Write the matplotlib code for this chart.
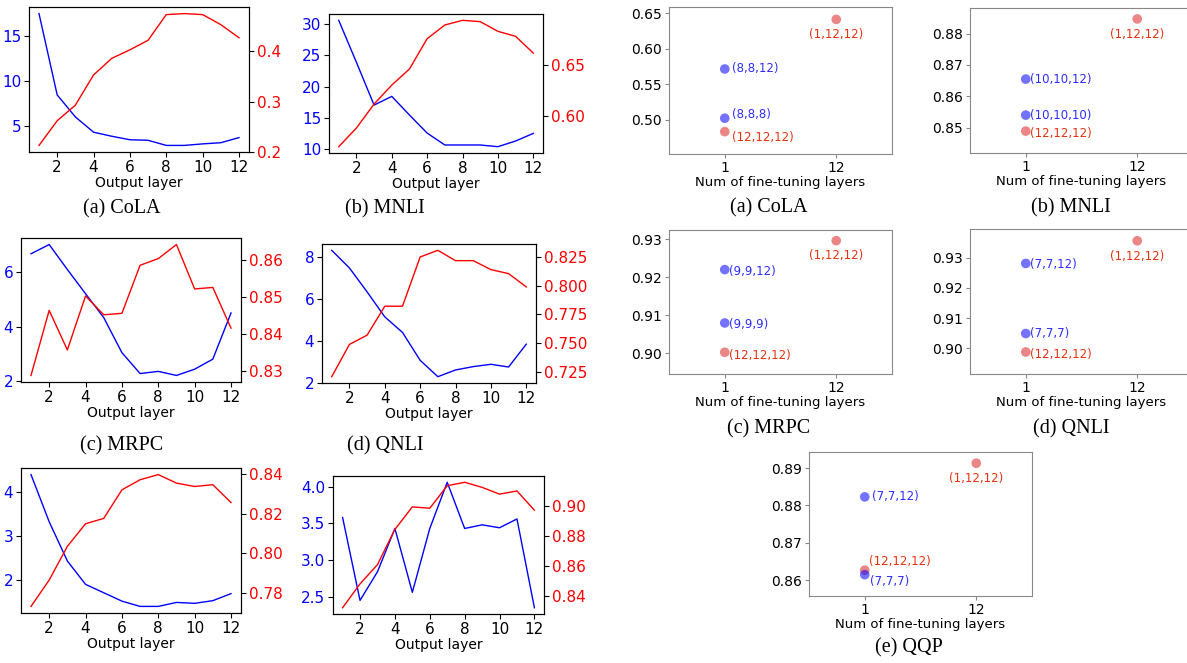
import matplotlib
matplotlib.use("Agg")
import matplotlib.pyplot as plt

W, H = 1187, 663
layers = list(range(1, 13))

# ---- line chart data (blue = left axis, red = right axis) ----
cola_blue = [17.5, 8.45, 6.0, 4.3, 3.85, 3.46, 3.4, 2.83, 2.83, 3.0, 3.13, 3.7]
cola_red = [0.213, 0.262, 0.293, 0.353, 0.386, 0.403, 0.422, 0.473, 0.475, 0.473, 0.453, 0.427]
mnli_blue = [30.6, 23.9, 17.07, 18.46, 15.48, 12.6, 10.7, 10.7, 10.7, 10.43, 11.33, 12.55]
mnli_red = [0.5696, 0.5879, 0.6114, 0.630, 0.6458, 0.6755, 0.6889, 0.6935, 0.6922, 0.6827, 0.6778, 0.6614]
mrpc_blue = [6.68, 7.02, 6.1, 5.21, 4.33, 3.04, 2.27, 2.35, 2.2, 2.43, 2.8, 4.5]
mrpc_red = [0.8287, 0.8463, 0.8356, 0.8502, 0.8451, 0.8455, 0.8585, 0.8603, 0.8641, 0.8521, 0.8525, 0.8415]
qnli_blue = [8.32, 7.48, 6.34, 5.15, 4.41, 3.08, 2.30, 2.62, 2.78, 2.89, 2.76, 3.85]
qnli_red = [0.7207, 0.7488, 0.7569, 0.7821, 0.7821, 0.825, 0.8308, 0.8218, 0.8218, 0.814, 0.8105, 0.7989]
e_blue = [4.40, 3.33, 2.44, 1.91, 1.72, 1.53, 1.41, 1.41, 1.50, 1.48, 1.54, 1.70]
e_red = [0.7732, 0.7865, 0.8035, 0.8149, 0.8176, 0.832, 0.8371, 0.8397, 0.8354, 0.8337, 0.8346, 0.8256]
f_blue = [3.58, 2.45, 2.84, 3.43, 2.56, 3.43, 4.06, 3.43, 3.48, 3.44, 3.56, 2.35]
f_red = [0.8321, 0.848, 0.8608, 0.8843, 0.8993, 0.8984, 0.9134, 0.9157, 0.9123, 0.9078, 0.9099, 0.8971]

# ---- scatter data ----
ft_ticks = [1, 12]
cola_pts = [(12, 0.6415, "(1,12,12)", "r"), (1, 0.5717, "(8,8,12)", "b"),
            (1, 0.5024, "(8,8,8)", "b"), (1, 0.4835, "(12,12,12)", "r")]
mnli_pts = [(12, 0.8847, "(1,12,12)", "r"), (1, 0.8655, "(10,10,12)", "b"),
            (1, 0.854, "(10,10,10)", "b"), (1, 0.8489, "(12,12,12)", "r")]
mrpc_pts = [(12, 0.9296, "(1,12,12)", "r"), (1, 0.922, "(9,9,12)", "b"),
            (1, 0.908, "(9,9,9)", "b"), (1, 0.9003, "(12,12,12)", "r")]
qnli_pts = [(12, 0.9356, "(1,12,12)", "r"), (1, 0.9281, "(7,7,12)", "b"),
            (1, 0.9049, "(7,7,7)", "b"), (1, 0.8988, "(12,12,12)", "r")]
qqp_pts = [(12, 0.8913, "(1,12,12)", "r"), (1, 0.8823, "(7,7,12)", "b"),
           (1, 0.8627, "(12,12,12)", "r"), (1, 0.8615, "(7,7,7)", "b")]

fig = plt.figure(figsize=(W / 100, H / 100), dpi=100)


def ax_at(l, t, r, b):
    return fig.add_axes([l / W, 1 - b / H, (r - l) / W, (b - t) / H])


def line_panel(box, blue, red, yticks_l=None, yticks_r=None):
    ax = ax_at(*box)
    ax.plot(layers, blue, color="blue", lw=1)
    ax2 = ax.twinx()
    ax2.plot(layers, red, color="red", lw=1)
    ax.set_xticks([2, 4, 6, 8, 10, 12])
    ax.set_xlabel("Output layer", fontsize=10, labelpad=1)
    ax.tick_params(axis="x", labelsize=11, pad=2)
    ax.tick_params(axis="y", labelsize=11, labelcolor="blue", pad=2)
    ax2.tick_params(axis="y", labelsize=11, labelcolor="red", pad=2)
    if yticks_l is not None:
        ax.set_yticks(yticks_l)
    if yticks_r is not None:
        ax2.set_yticks(yticks_r)
    return ax, ax2


line_panel((29, 7, 249, 152), cola_blue, cola_red, [5, 10, 15], [0.2, 0.3, 0.4])
line_panel((329, 14, 543, 153), mnli_blue, mnli_red, [10, 15, 20, 25, 30], [0.60, 0.65])
a3, b3 = line_panel((21, 238, 241, 382), mrpc_blue, mrpc_red, [2, 4, 6], [0.83, 0.84, 0.85, 0.86])
a4, b4 = line_panel((322, 244, 536, 383), qnli_blue, qnli_red, [2, 4, 6, 8],
                    [0.725, 0.750, 0.775, 0.800, 0.825])
b4.set_yticklabels(["0.725", "0.750", "0.775", "0.800", "0.825"])
a5, b5 = line_panel((21, 468, 241, 613), e_blue, e_red, [2, 3, 4], [0.78, 0.80, 0.82, 0.84])
b5.set_yticklabels(["0.78", "0.80", "0.82", "0.84"])
a6, b6 = line_panel((333, 476, 544, 614), f_blue, f_red, [2.5, 3.0, 3.5, 4.0],
                    [0.84, 0.86, 0.88, 0.90])
a6.set_yticklabels(["2.5", "3.0", "3.5", "4.0"])
b6.set_yticklabels(["0.84", "0.86", "0.88", "0.90"])
b3.set_yticklabels(["0.83", "0.84", "0.85", "0.86"])

BLUE_PT, RED_PT = "blue", "#dd2222"
BLUE_TX, RED_TX = "#2d2dff", "#e8300f"


def scatter_panel(box, pts, ylim, yticks, fmt, offsets):
    ax = ax_at(*box)
    for (x, y, lab, c), off in zip(pts, offsets):
        pc = BLUE_PT if c == "b" else RED_PT
        tc = BLUE_TX if c == "b" else RED_TX
        ax.scatter([x], [y], s=48, color=pc, alpha=0.55, edgecolors="none", zorder=3)
        ha = "center" if off[0] == 0 else "left"
        ax.annotate(lab, (x, y), xytext=off, textcoords="offset points",
                    ha=ha, va="center", fontsize=8.5, color=tc)
    ax.set_xlim(-4.5, 17.5)
    ax.set_ylim(*ylim)
    ax.set_xticks(ft_ticks)
    ax.set_yticks(yticks)
    ax.set_yticklabels([fmt.format(v) for v in yticks])
    ax.set_xlabel("Num of fine-tuning layers", fontsize=9.5, labelpad=1)
    ax.tick_params(labelsize=10, length=3, color="#888888", pad=2)
    for sp in ax.spines.values():
        sp.set_color("#888888")
    return ax


scatter_panel((669, 7, 892, 154), cola_pts, (0.452, 0.659), [0.50, 0.55, 0.60, 0.65], "{:.2f}",
              [(0, -11), (5, 0), (5, 3), (5, -4)])
scatter_panel((970, 8, 1193, 153), mnli_pts, (0.8419, 0.8882), [0.85, 0.86, 0.87, 0.88], "{:.2f}",
              [(0, -11), (3, 0), (3, 0), (3, -2)])
scatter_panel((669, 230, 892, 374), mrpc_pts, (0.8946, 0.9324), [0.90, 0.91, 0.92, 0.93], "{:.2f}",
              [(0, -11), (3, -1), (3, -1), (3, -2)])
scatter_panel((970, 229, 1193, 374), qnli_pts, (0.8915, 0.9395), [0.90, 0.91, 0.92, 0.93], "{:.2f}",
              [(0, -11), (3, -1), (3, 0), (3, -2)])
scatter_panel((809, 452, 1032, 596), qqp_pts, (0.8558, 0.8943), [0.86, 0.87, 0.88, 0.89], "{:.2f}",
              [(0, -11), (5, 0), (3, 6), (4, -5)])

# ---- captions ----
captions = [(122, 209, "(a) CoLA"), (385, 209, "(b) MNLI"),
            (122, 446, "(c) MRPC"), (385, 446, "(d) QNLI"),
            (769, 208, "(a) CoLA"), (1071, 208, "(b) MNLI"),
            (769, 429, "(c) MRPC"), (1071, 429, "(d) QNLI"),
            (909, 648, "(e) QQP")]
for x, y, t in captions:
    fig.text(x / W, 1 - y / H, t, ha="center", va="center", fontsize=14.5,
             family="Liberation Serif")

fig.savefig("out.png", dpi=100)
